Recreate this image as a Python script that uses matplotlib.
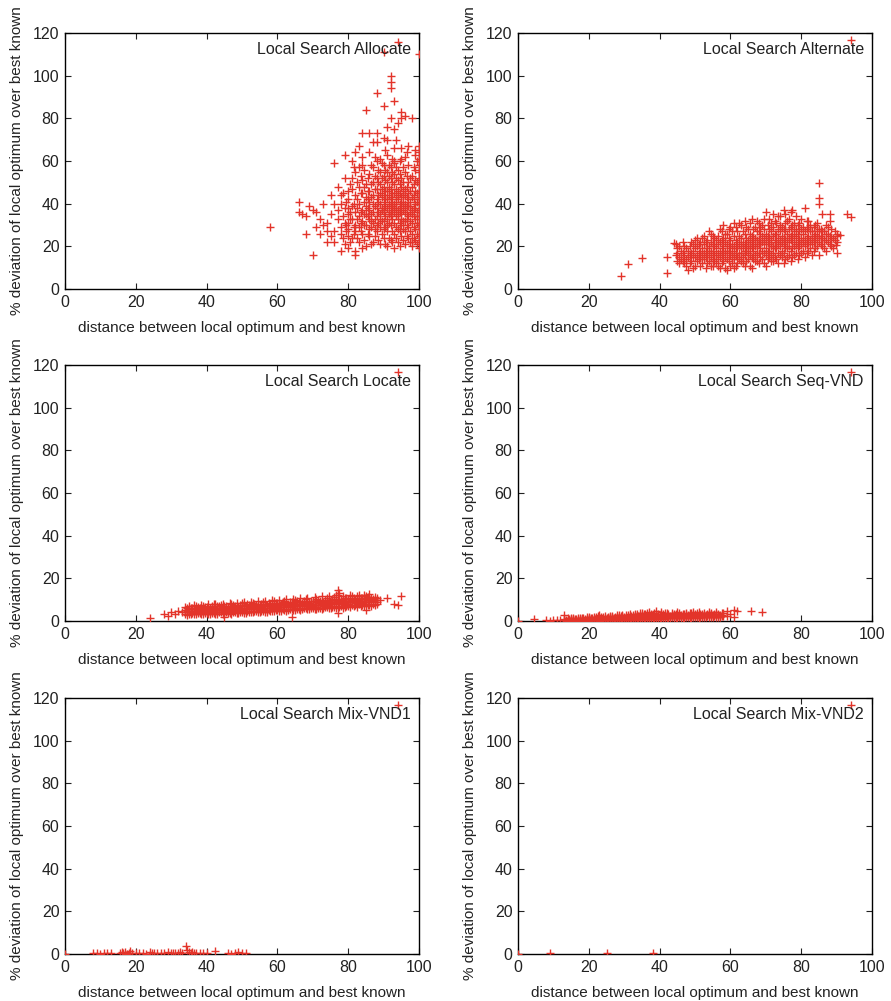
import matplotlib
matplotlib.use("Agg")
import matplotlib.pyplot as plt

plt.rcParams['font.family'] = ['Liberation Sans', 'DejaVu Sans']

# ---- data ----
# Local Search Allocate: scattered outliers (x, y)
alloc_pts = [(58, 29), (66, 41), (66, 36), (67, 35), (68, 34), (70, 16), (70, 37), (71, 36),
             (72, 26), (73, 30), (74, 31), (74, 22), (75, 25), (76, 59), (76, 27), (76, 40),
             (77, 33), (78, 40), (78, 29), (78, 18), (78, 44), (79, 63), (79, 21), (79, 38),
             (80, 46), (80, 35), (80, 25), (82, 16), (82, 18), (93, 19), (98, 22),
             (68, 26), (69, 39), (71, 29), (72, 33), (73, 40), (74, 27), (75, 35), (75, 44),
             (76, 22), (77, 37), (77, 48), (78, 26), (79, 31), (79, 52), (80, 19), (81, 39),
             (81, 60), (83, 57), (83, 67), (84, 19),
             (85, 84), (88, 92), (90, 86), (92, 100), (92, 97), (92, 94), (93, 88), (95, 83),
             (96, 81), (95, 80), (92, 80), (94, 78), (98, 80), (91, 76), (93, 75), (84, 73),
             (86, 73), (88, 73), (90, 71), (91, 70), (87, 69), (88, 69), (99, 65), (95, 66),
             (97, 67), (99, 63), (82, 64), (84, 62), (86, 64), (89, 61), (93, 60), (96, 62),
             (94, 116), (90, 111), (100, 110)]
# Allocate dense cloud: x column -> y values
alloc_x = [80, 81, 82, 83, 84, 85, 86, 87, 88, 89, 90, 91, 92, 93, 94, 95, 96, 97, 98, 99, 100]
alloc_y = [[28, 38, 42, 31],
           [24, 33, 47, 52],
           [30, 36, 44, 27, 55],
           [22, 34, 40, 48, 29],
           [26, 37, 45, 51, 32, 58],
           [20, 30, 39, 43, 49, 35],
           [25, 33, 41, 46, 54, 28, 37],
           [22, 31, 36, 44, 50, 40, 57],
           [27, 34, 38, 42, 47, 52, 30, 60],
           [21, 29, 35, 40, 45, 49, 55, 33],
           [24, 32, 37, 41, 44, 48, 53, 58, 28, 36],
           [20, 27, 33, 38, 42, 46, 50, 55, 30, 63],
           [23, 30, 35, 39, 43, 47, 52, 57, 34, 41],
           [26, 31, 36, 40, 45, 49, 54, 59, 38, 66],
           [22, 28, 33, 37, 42, 46, 51, 56, 44, 35],
           [25, 30, 35, 39, 43, 48, 52, 61, 41, 33],
           [21, 27, 32, 38, 44, 47, 55, 40, 36],
           [24, 29, 34, 39, 42, 50, 58, 45],
           [20, 26, 31, 37, 43, 48, 53, 35],
           [23, 28, 33, 40, 46, 51, 56, 38],
           [19, 22, 25, 28, 31, 34, 37, 40, 43, 46, 49, 52, 55, 58, 61, 64, 67, 30, 42]]
alloc_x2 = [78.5, 79.5, 80.5, 81.5, 82.5, 83.5, 84.5, 85.5, 86.5, 87.5, 88.5, 89.5, 90.5,
            91.5, 92.5, 93.5, 94.5, 95.5, 96.5, 97.5, 98.5, 99.5]
alloc_y2 = [[24, 34, 45], [30, 41, 27], [22, 36, 49, 33], [29, 40, 57, 26],
            [24, 33, 42, 50, 38], [27, 36, 45, 53, 31], [23, 30, 41, 48, 35, 56],
            [26, 34, 38, 46, 52, 42], [21, 29, 35, 43, 49, 58, 32],
            [25, 33, 39, 47, 53, 28, 62], [23, 31, 36, 44, 50, 56, 41],
            [26, 32, 38, 43, 47, 52, 37, 59], [21, 29, 34, 39, 46, 51, 56, 42, 65],
            [24, 31, 36, 40, 44, 48, 53, 58, 35], [22, 27, 33, 37, 42, 45, 50, 55, 61, 39],
            [24, 29, 34, 38, 43, 47, 52, 57, 41, 70], [20, 27, 31, 36, 40, 45, 49, 54, 60, 38],
            [23, 28, 32, 37, 41, 46, 50, 57, 44], [25, 30, 35, 39, 43, 48, 53, 64, 33],
            [22, 27, 32, 36, 41, 46, 52, 39], [24, 29, 34, 38, 44, 49, 57, 42],
            [21, 26, 31, 36, 41, 45, 50, 60, 34]]

# Local Search Alternate
alt_pts = [(29, 6), (31, 11.5), (35, 14.4), (42, 7.7), (42, 15), (44, 21.5), (85, 49.5),
           (85, 42.5), (85, 39.8), (93, 35), (94, 33.8), (90, 17), (91, 25.5), (89.7, 20.5),
           (90, 25), (88, 35), (94, 116.5)]
alt_x = [45, 46, 47, 48, 49, 50, 51, 52, 53, 54, 55, 56, 57, 58, 59, 60, 61, 62, 63, 64, 65,
         66, 67, 68, 69, 70, 71, 72, 73, 74, 75, 76, 77, 78, 79, 80, 81, 82, 83, 84, 85, 86,
         87, 88, 89, 90]
alt_y = [[13, 17, 19], [14, 18], [12, 16, 20], [9, 15, 18], [13, 17, 22], [11, 15, 19, 23],
         [14, 17, 21], [12, 16, 19, 24], [10, 15, 18, 22], [13, 17, 20, 27],
         [11, 14, 18, 21, 25], [12, 16, 19, 23], [10, 15, 18, 22, 28], [13, 17, 20, 24, 30],
         [9, 14, 18, 21, 26], [11, 16, 19, 23, 29], [10, 14, 17, 20, 25, 31],
         [12, 15, 19, 22, 27], [13, 17, 20, 24, 30], [11, 16, 18, 21, 26, 32],
         [14, 17, 20, 23, 28], [10, 15, 19, 22, 25, 33], [13, 16, 20, 24, 29],
         [12, 17, 21, 23, 27, 31], [14, 18, 22, 25, 30], [11, 16, 19, 23, 26, 36],
         [15, 18, 21, 24, 28, 33], [13, 17, 20, 25, 29, 35], [14, 19, 22, 26, 31],
         [16, 20, 23, 27, 30, 34], [12, 17, 21, 24, 28, 37], [15, 19, 22, 26, 32],
         [13, 18, 23, 25, 29, 36], [16, 20, 24, 27, 31], [14, 19, 22, 26, 30],
         [17, 21, 24, 28, 33], [15, 20, 23, 27, 38], [18, 22, 25, 29, 32], [16, 21, 24, 27],
         [19, 23, 26, 30], [16, 22, 25, 28], [20, 24, 27, 35], [18, 23, 26, 30], [21, 25, 32],
         [19, 24], [22, 26]]
alt_x2 = [44.5, 45.5, 46.5, 47.5, 48.5, 49.5, 50.5, 51.5, 52.5, 53.5, 54.5, 55.5, 56.5, 57.5,
          58.5, 59.5, 60.5, 61.5, 62.5, 63.5, 64.5, 65.5, 66.5, 67.5, 68.5, 69.5, 70.5, 71.5,
          72.5, 73.5, 74.5, 75.5, 76.5, 77.5, 78.5, 79.5, 80.5, 81.5, 82.5, 83.5, 84.5, 85.5,
          86.5, 87.5, 88.5, 89.5]
alt_y2 = [[16, 21], [12, 15, 20], [13, 17, 22], [11, 14, 19], [12, 16, 20], [10, 15, 18, 21],
          [13, 16, 20, 24], [11, 15, 18, 22], [14, 17, 21, 25], [12, 16, 19, 23],
          [11, 15, 18, 22, 26], [13, 16, 20, 24], [11, 14, 17, 21, 25], [12, 16, 19, 23, 27],
          [10, 15, 18, 22, 26], [13, 17, 20, 24, 28], [12, 15, 18, 21, 27],
          [11, 16, 19, 23, 29], [14, 17, 21, 25, 31], [12, 15, 19, 22, 27],
          [13, 18, 20, 24, 29], [11, 16, 19, 22, 26, 31], [14, 18, 21, 24, 28],
          [13, 17, 20, 23, 27, 32], [15, 19, 22, 26, 29], [12, 17, 21, 24, 28, 33],
          [14, 18, 22, 25, 30], [13, 16, 20, 23, 27, 31], [15, 19, 22, 26, 32],
          [12, 17, 21, 24, 28, 34], [15, 18, 22, 25, 29], [14, 19, 23, 27, 31, 35],
          [16, 20, 24, 28, 33], [15, 19, 22, 26, 30, 37], [17, 21, 25, 28, 34],
          [16, 20, 23, 27, 31], [18, 22, 26, 29], [17, 21, 24, 28, 32], [19, 23, 27, 30],
          [18, 22, 25, 29], [20, 24, 27, 31], [21, 25, 28], [19, 23, 27], [22, 26, 29],
          [20, 24, 28], [23, 27]]

# Local Search Locate
loc_pts = [(24, 1.6), (28, 3.1), (29, 2.5), (30, 4), (31, 3.2), (32, 4.7), (33, 4),
           (89, 9.8), (91, 10.9), (93, 7.8), (94, 7.5), (95, 11.7), (94, 116.5)]
loc_x = list(range(34, 89))
loc_y = [[3.5, 5.0, 6.5, 4.2], [4.0, 5.5, 7.2, 3.2], [3.8, 4.8, 6.0], [4.4, 5.6, 3.3, 6.8],
         [3.6, 5.0, 6.2, 4.3], [4.1, 5.4, 7.0, 3.2], [3.7, 4.6, 5.8, 6.6], [4.3, 5.2, 3.4, 6.1],
         [3.9, 5.0, 6.4, 4.6, 8.0], [4.4, 5.7, 3.5, 6.8], [4.0, 5.1, 6.1, 7.5],
         [3.6, 4.7, 5.5, 6.9, 1.9], [4.2, 5.3, 6.3, 3.8], [4.5, 5.8, 6.7, 3.4, 8.2],
         [4.1, 5.0, 6.0, 7.1], [4.6, 5.5, 6.5, 3.7], [4.3, 5.2, 6.2, 7.4, 8.5],
         [4.8, 5.8, 6.8, 3.9], [4.4, 5.4, 6.4, 7.3], [4.9, 5.9, 7.0, 4.0, 8.6],
         [4.6, 5.6, 6.6, 7.6], [5.0, 6.0, 7.1, 4.1], [4.7, 5.8, 6.8, 7.9, 9.0],
         [5.2, 6.2, 7.3, 4.4], [4.9, 6.0, 7.0, 8.1], [5.4, 6.4, 7.5, 4.6, 9.2],
         [5.1, 6.2, 7.2, 8.3], [5.6, 6.7, 7.7, 4.8], [5.3, 6.4, 7.4, 8.5, 9.6],
         [5.8, 6.9, 7.9, 5.0], [5.5, 6.6, 7.6, 8.7, 1.9], [6.0, 7.1, 8.1, 5.2, 9.8],
         [5.7, 6.8, 7.8, 8.9], [6.2, 7.3, 8.3, 5.4], [5.9, 7.0, 8.0, 9.1, 10.2],
         [6.4, 7.5, 8.5, 5.6], [6.1, 7.2, 8.2, 9.3], [6.6, 7.7, 8.7, 5.8, 10.5],
         [6.3, 7.4, 8.4, 9.5], [6.8, 7.9, 8.9, 6.0], [6.5, 7.6, 8.6, 9.7, 10.8],
         [7.0, 8.1, 9.1, 6.2], [6.7, 7.8, 8.8, 9.9, 11.2], [7.2, 8.3, 9.3, 14.5, 12.0, 3.9],
         [6.9, 8.0, 9.0, 10.1], [7.4, 8.5, 9.5, 6.6, 11.0], [7.1, 8.2, 9.2, 10.3],
         [7.6, 8.7, 9.7, 11.5], [7.3, 8.4, 9.4, 10.5], [7.8, 8.9, 9.9, 12.3],
         [7.5, 8.6, 9.6, 10.7], [8.0, 9.1, 10.1, 5.0, 11.8], [7.7, 8.8, 9.8, 10.9, 12.5],
         [8.2, 9.3, 10.3], [7.9, 9.0, 10.0, 11.0]]
loc_x2 = [v + 0.5 for v in range(34, 88)]
loc_y2 = [[3.0, 4.6, 6.0], [3.4, 4.9, 6.3], [3.1, 4.5, 5.7, 7.4], [3.6, 5.2, 6.4],
          [3.2, 4.7, 5.9, 7.6], [3.8, 5.3, 6.5], [3.3, 4.9, 6.2, 7.8], [3.9, 5.5, 6.8],
          [3.4, 5.0, 6.3, 7.9], [4.0, 5.6, 7.0], [3.5, 5.2, 6.5, 8.1], [4.1, 5.8, 7.2],
          [3.7, 5.3, 6.7, 8.4], [4.3, 6.0, 7.4], [3.8, 5.5, 6.9, 8.6], [4.4, 6.1, 7.6],
          [3.9, 5.7, 7.1, 8.8], [4.6, 6.3, 7.8], [4.1, 5.9, 7.3, 9.0], [4.7, 6.5, 8.0],
          [4.2, 6.1, 7.5, 9.3], [4.9, 6.7, 8.2], [4.4, 6.3, 7.7, 9.5], [5.0, 6.9, 8.4],
          [4.6, 6.5, 7.9, 9.8], [5.2, 7.1, 8.6], [4.7, 6.7, 8.1, 10.0], [5.4, 7.3, 8.8],
          [4.9, 6.9, 8.3, 10.3], [5.5, 7.5, 9.0], [5.1, 7.1, 8.6, 10.5], [5.7, 7.7, 9.2],
          [5.2, 7.3, 8.8, 10.8], [5.9, 7.9, 9.4], [5.4, 7.5, 9.0, 11.0], [6.0, 8.1, 9.6],
          [5.6, 7.7, 9.2, 11.3], [6.2, 8.3, 9.8], [5.7, 7.9, 9.4, 11.5], [6.4, 8.5, 10.0],
          [5.9, 8.1, 9.6, 11.8], [6.5, 8.7, 10.2], [6.1, 8.3, 9.8, 12.0],
          [6.7, 8.9, 10.4, 13.2], [6.3, 8.5, 10.0, 11.9], [6.9, 9.1, 10.6],
          [6.4, 8.7, 10.2, 12.1], [7.0, 9.3, 10.8], [6.6, 8.9, 10.4, 11.6], [7.2, 9.5, 11.0],
          [6.8, 9.1, 10.6, 12.0], [7.4, 9.7, 11.2], [7.0, 9.3, 10.8], [7.6, 9.9, 11.4]]

# Local Search Seq-VND
seq_pts = [(0, 0), (4.6, 1.0), (8, 0.4), (9, 0.2), (10, 0.5), (11, 0.3), (12, 0.6),
           (59, 2.5), (59, 4.8), (60, 3.5), (61, 5.2), (61, 2.0), (62, 4.5), (65.7, 4.7),
           (69, 4.2), (94, 116.5)]
seq_x = list(range(13, 59))
seq_y = [[0.3, 0.9, 3.0], [0.5, 1.2], [0.2, 0.8, 1.5], [0.4, 1.0], [0.6, 1.3, 0.1],
         [0.3, 0.9, 1.6], [0.5, 1.1], [0.2, 0.8, 1.4, 2.0], [0.6, 1.2, 0.3], [0.4, 1.0, 1.7],
         [0.7, 1.3, 0.2, 2.9], [0.5, 1.1, 1.8], [0.8, 1.4, 0.3], [0.6, 1.2, 1.9, 2.4],
         [0.9, 1.5, 0.4], [0.7, 1.3, 2.0, 2.8], [1.0, 1.6, 0.5, 2.3], [0.8, 1.4, 2.1],
         [1.1, 1.7, 0.6, 2.6], [0.9, 1.5, 2.2], [1.2, 1.8, 0.7, 2.7, 3.3], [1.0, 1.6, 2.3],
         [1.3, 1.9, 0.8, 2.8, 3.8], [1.1, 1.7, 2.4, 3.2], [1.4, 2.0, 0.9, 4.2],
         [1.2, 1.8, 2.5, 3.0], [1.5, 2.1, 1.0, 3.5, 4.5], [1.3, 1.9, 2.6], [1.6, 2.2, 1.1, 3.1],
         [1.4, 2.0, 2.7, 3.9], [1.7, 2.3, 1.2], [1.5, 2.1, 2.8, 3.4], [1.8, 2.4, 1.3, 4.0],
         [1.6, 2.2, 2.9], [1.9, 2.5, 1.4, 3.3], [1.7, 2.3, 3.0], [2.0, 2.6, 1.5, 3.6],
         [1.8, 2.4, 3.1], [2.1, 2.7, 1.6, 4.2], [1.9, 2.5, 3.2], [2.2, 2.8, 1.7],
         [2.0, 2.6, 3.4, 4.0], [2.3, 2.9, 1.8], [2.1, 2.7, 3.5, 4.3], [2.4, 3.0, 1.9],
         [2.2, 3.6]]
seq_x2 = [v + 0.5 for v in range(13, 58)]
seq_y2 = [[0.2, 0.7], [0.4, 1.0, 0.1], [0.3, 0.8, 1.3], [0.5, 1.1, 0.2], [0.4, 0.9, 1.5],
          [0.2, 0.7, 1.2], [0.5, 1.0, 1.7], [0.3, 0.9, 1.4], [0.6, 1.1, 1.8],
          [0.4, 0.9, 1.5, 2.2], [0.7, 1.2, 1.9], [0.5, 1.0, 1.6, 2.3], [0.8, 1.3, 2.0],
          [0.5, 1.1, 1.7, 2.5], [0.9, 1.4, 2.1], [0.6, 1.2, 1.8, 2.6], [1.0, 1.5, 2.2, 3.0],
          [0.7, 1.3, 1.9, 2.7], [1.1, 1.6, 2.3, 3.1], [0.8, 1.4, 2.0, 2.8],
          [1.2, 1.7, 2.4, 3.2], [0.9, 1.5, 2.1, 2.9, 3.6], [1.3, 1.8, 2.5, 3.3],
          [1.0, 1.6, 2.2, 3.0, 3.7], [1.4, 1.9, 2.6, 3.4], [1.1, 1.7, 2.3, 3.1, 3.9],
          [1.5, 2.0, 2.7, 3.5], [1.2, 1.8, 2.4, 3.2, 4.0], [1.6, 2.1, 2.8, 3.6],
          [1.3, 1.9, 2.5, 3.3], [1.7, 2.2, 2.9, 3.7], [1.4, 2.0, 2.6, 3.4],
          [1.8, 2.3, 3.0, 3.8], [1.5, 2.1, 2.7, 3.5], [1.9, 2.4, 3.1, 3.9],
          [1.6, 2.2, 2.8, 3.6], [2.0, 2.5, 3.2, 4.0], [1.7, 2.3, 2.9, 3.7], [2.1, 2.6, 3.3],
          [1.8, 2.4, 3.0, 3.8], [2.2, 2.7, 3.4], [1.9, 2.5, 3.1, 3.9], [2.3, 2.8, 3.5],
          [2.0, 2.6, 3.2], [2.4, 2.9, 3.6]]

# Local Search Mix-VND1
mix1_pts = [(0, 0), (8, 0.3), (9, 0.6), (10, 0.2), (11, 0.5), (12, 0.3), (13, 0.4),
            (15.5, 0.3), (16, 0.8), (16.5, 0.4), (17, 1.0), (17.5, 0.2), (18, 0.6), (18.5, 1.2),
            (19, 0.4), (20, 0.3), (21, 0.7), (22, 0.4), (23, 0.2), (24, 0.8), (24.5, 0.4),
            (25, 0.5), (26, 0.3), (27, 0.6), (28, 0.4), (29, 0.9), (30, 0.5), (30.5, 0.3),
            (31, 0.6), (32, 0.4), (32.5, 0.9), (33, 0.5), (34.3, 3.6), (34.5, 2.0), (35, 0.8),
            (35.5, 0.4), (36, 1.1), (36.5, 0.6), (37, 0.4), (38, 0.7), (39, 0.3), (40, 0.5),
            (42.3, 1.5), (46, 0.4), (47, 0.2), (48, 0.5), (49, 0.8), (50, 0.6), (51, 0.7),
            (94, 116.5)]

# Local Search Mix-VND2
mix2_pts = [(0, 0), (9, 0.3), (25, 0.3), (38, 0.3), (94, 116.5)]


def flatten(pts, *cols):
    xs = [p[0] for p in pts]
    ys = [p[1] for p in pts]
    for cx, cy in cols:
        for x, col in zip(cx, cy):
            for y in col:
                xs.append(x)
                ys.append(y)
    return xs, ys


panels = [
    ("Local Search Allocate", flatten(alloc_pts, (alloc_x, alloc_y), (alloc_x2, alloc_y2))),
    ("Local Search Alternate", flatten(alt_pts, (alt_x, alt_y), (alt_x2, alt_y2))),
    ("Local Search Locate", flatten(loc_pts, (loc_x, loc_y), (loc_x2, loc_y2))),
    ("Local Search Seq-VND", flatten(seq_pts, (seq_x, seq_y), (seq_x2, seq_y2))),
    ("Local Search Mix-VND1", flatten(mix1_pts)),
    ("Local Search Mix-VND2", flatten(mix2_pts)),
]

W, H = 891, 1001
fig = plt.figure(figsize=(W / 100, H / 100), dpi=100)

lefts = [65, 518]
bottoms = [289, 621, 954]
aw, ah = 354, 256
red = '#e3342a'

for i, (title, (xs, ys)) in enumerate(panels):
    r, c = divmod(i, 2)
    ax = fig.add_axes([lefts[c] / W, 1 - bottoms[r] / H, aw / W, ah / H])
    ax.scatter(xs, ys, marker='+', s=26, linewidths=1.0, color=red, zorder=3)
    ax.set_xlim(0, 100)
    ax.set_ylim(0, 120)
    ax.set_xticks(range(0, 101, 20))
    ax.set_yticks(range(0, 121, 20))
    ax.tick_params(direction='in', top=True, right=True, length=4, width=0.8,
                   labelsize=11.5, pad=4, colors='#222222')
    for sp in ax.spines.values():
        sp.set_linewidth(1.0)
    ax.text(0.977, 0.965, title, transform=ax.transAxes, ha='right', va='top',
            fontsize=11.5, color='#222222')
    ax.set_xlabel("distance between local optimum and best known", fontsize=11,
                  color='#222222', labelpad=8)
    ax.set_ylabel("% deviation of local optimum over best known", fontsize=11,
                  color='#222222', labelpad=6)

fig.savefig("out.png", dpi=100)
